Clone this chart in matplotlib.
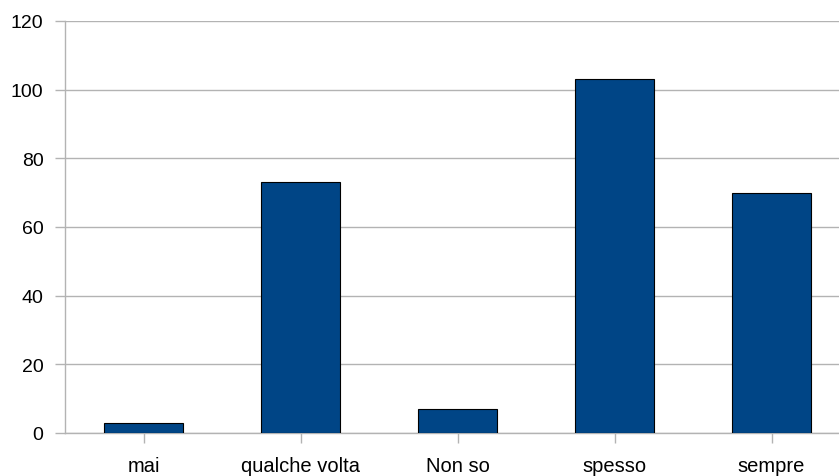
import matplotlib.pyplot as plt

plt.rcParams['font.family'] = ['Liberation Sans', 'DejaVu Sans']

categories = ["mai", "qualche volta", "Non so", "spesso", "sempre"]
values = [3, 73, 7, 103, 70]
y_ticks = [0, 20, 40, 60, 80, 100, 120]

fig = plt.figure(figsize=(8.39, 4.77), dpi=100)
# axes run slightly past the right edge, as in the original
ax = fig.add_axes([65 / 839, 1 - 434 / 477, 785 / 839, 412 / 477])

ax.bar(range(len(categories)), values, width=0.5, color="#004586",
       edgecolor="#000000", linewidth=0.8, zorder=3)

ax.set_xlim(-0.5, len(categories) - 0.5)
ax.set_ylim(0, 120)
ax.set_yticks(y_ticks)
ax.set_xticks(range(len(categories)))
ax.set_xticklabels(categories)

ax.grid(axis="y", color="#b3b3b3", linewidth=1, zorder=0)
for side in ["top", "right"]:
    ax.spines[side].set_visible(False)
for side in ["left", "bottom"]:
    ax.spines[side].set_color("#b3b3b3")
    ax.spines[side].set_linewidth(1)

ax.tick_params(axis="both", colors="#b3b3b3", labelcolor="black",
               length=7.5, width=1)
ax.tick_params(axis="y", pad=8, labelsize=14)
ax.tick_params(axis="x", pad=9, labelsize=14.5)

fig.savefig("out.png", dpi=100)
